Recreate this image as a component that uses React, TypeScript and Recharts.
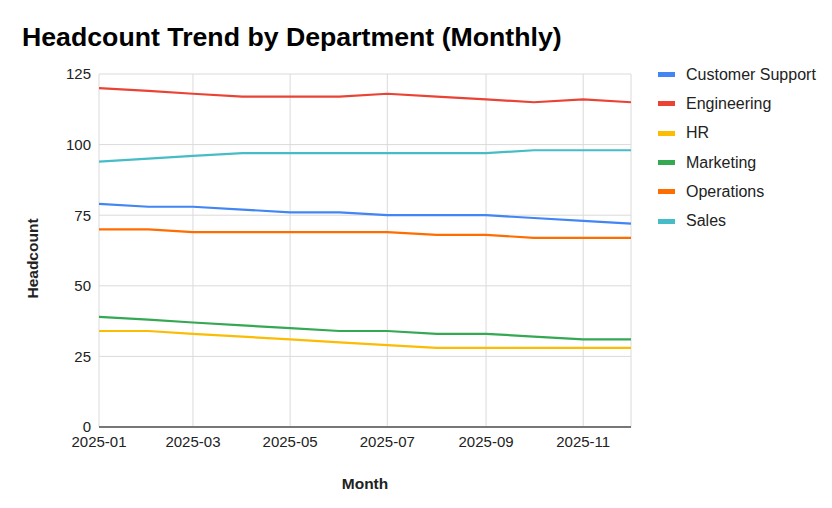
import React from "react";
import { LineChart, Line, XAxis, YAxis, CartesianGrid } from "recharts";

const months = ["2025-01", "2025-02", "2025-03", "2025-04", "2025-05", "2025-06", "2025-07", "2025-08", "2025-09", "2025-10", "2025-11", "2025-12"];
const tickMonths = ["2025-01", "2025-03", "2025-05", "2025-07", "2025-09", "2025-11"];
const yTicks = [0, 25, 50, 75, 100, 125];

const customerSupport = [79, 78, 78, 77, 76, 76, 75, 75, 75, 74, 73, 72];
const engineering = [120, 119, 118, 117, 117, 117, 118, 117, 116, 115, 116, 115];
const hr = [34, 34, 33, 32, 31, 30, 29, 28, 28, 28, 28, 28];
const marketing = [39, 38, 37, 36, 35, 34, 34, 33, 33, 32, 31, 31];
const operations = [70, 70, 69, 69, 69, 69, 69, 68, 68, 67, 67, 67];
const sales = [94, 95, 96, 97, 97, 97, 97, 97, 97, 98, 98, 98];

const series = [
  { key: "customerSupport", name: "Customer Support", color: "#4285F4", values: customerSupport },
  { key: "engineering", name: "Engineering", color: "#EA4335", values: engineering },
  { key: "hr", name: "HR", color: "#FBBC04", values: hr },
  { key: "marketing", name: "Marketing", color: "#34A853", values: marketing },
  { key: "operations", name: "Operations", color: "#FF6D01", values: operations },
  { key: "sales", name: "Sales", color: "#46BDC6", values: sales },
];

const toTime = (m: string) => {
  const [y, mo] = m.split("-").map(Number);
  return Date.UTC(y, mo - 1, 1);
};

const fmtMonth = (t: number) => {
  const d = new Date(t);
  return `${d.getUTCFullYear()}-${String(d.getUTCMonth() + 1).padStart(2, "0")}`;
};

const data = months.map((m, i) => {
  const row: Record<string, number> = { t: toTime(m) };
  series.forEach((s) => (row[s.key] = s.values[i]));
  return row;
});

const font = '"Liberation Sans", Arial, sans-serif';
const tickStyle = { fill: "#222", fontSize: 15, fontFamily: font };

export default function App() {
  return (
    <div style={{ position: "relative", width: 832, height: 508, fontFamily: font, background: "#fff" }}>
      <style>{"body{margin:0}"}</style>
      <div style={{ position: "absolute", left: 22, top: 24, fontSize: 26.7, lineHeight: "26px", fontWeight: "bold", color: "#000" }}>
        Headcount Trend by Department (Monthly)
      </div>

      <LineChart width={832} height={508} data={data} margin={{ top: 74, right: 201, bottom: 0, left: 0 }}>
        <CartesianGrid stroke="#dadada" strokeWidth={1} />
        <XAxis
          dataKey="t"
          type="number"
          scale="time"
          domain={[toTime(months[0]), toTime(months[months.length - 1])]}
          ticks={tickMonths.map(toTime)}
          tickFormatter={fmtMonth}
          tick={tickStyle}
          tickLine={false}
          tickSize={0}
          tickMargin={9}
          axisLine={{ stroke: "#777", strokeWidth: 2 }}
          height={81}
          label={{
            content: ({ viewBox }: any) => (
              <text x={viewBox.x + viewBox.width / 2} y={viewBox.y + 56} textAnchor="middle" dominantBaseline="central" fontFamily={font} fontSize={15.5} fontWeight="bold" fill="#222">
                Month
              </text>
            ),
          }}
        />
        <YAxis
          domain={[0, 125]}
          ticks={yTicks}
          tick={tickStyle}
          tickLine={false}
          tickSize={0}
          tickMargin={8}
          axisLine={false}
          width={99}
          label={{
            content: ({ viewBox }: any) => {
              const cx = viewBox.x + 32;
              const cy = viewBox.y + viewBox.height / 2 + 8;
              return (
                <text x={cx} y={cy} transform={`rotate(-90 ${cx} ${cy})`} textAnchor="middle" dominantBaseline="central" fontFamily={font} fontSize={15.5} fontWeight="bold" fill="#222">
                  Headcount
                </text>
              );
            },
          }}
        />
        {series.map((s) => (
          <Line key={s.key} type="linear" dataKey={s.key} name={s.name} stroke={s.color} strokeWidth={2.2} dot={false} activeDot={false} isAnimationActive={false} />
        ))}
      </LineChart>

      <div style={{ position: "absolute", left: 658, top: 60 }}>
        {series.map((s) => (
          <div key={s.key} style={{ display: "flex", alignItems: "center", height: 29.3 }}>
            <div style={{ width: 17, height: 5, background: s.color, marginRight: 11 }} />
            <span style={{ fontSize: 16, color: "#222" }}>{s.name}</span>
          </div>
        ))}
      </div>
    </div>
  );
}
